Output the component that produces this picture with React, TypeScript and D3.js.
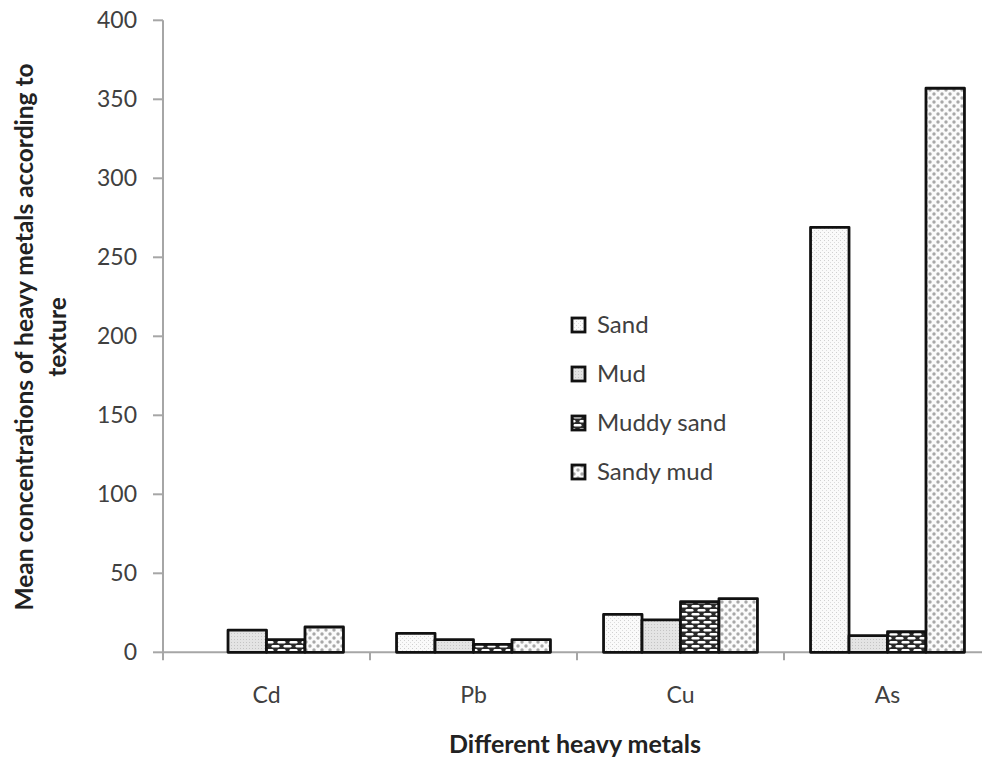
import * as React from "react";
import * as d3 from "d3";

const metals = ["Cd", "Pb", "Cu", "As"];
const textures = ["Sand", "Mud", "Muddy sand", "Sandy mud"];
// values per texture, in metal order
const sand = [0, 12, 24, 269];
const mud = [14, 8, 20.5, 10.5];
const muddySand = [8, 5, 32, 13];
const sandyMud = [16, 8, 34, 357];
const yTicks = [0, 50, 100, 150, 200, 250, 300, 350, 400];

const series = [sand, mud, muddySand, sandyMud];
const fills = ["url(#pSand)", "url(#pMud)", "url(#pMuddySand)", "url(#pSandyMud)"];

const width = 982;
const height = 759;
const left = 163;
const right = 991;
const top = 20.3;
const bottom = 652.3;
const font = "Lato, 'Open Sans', sans-serif";

export default function App() {
  const x = d3.scaleBand().domain(metals).range([left, right]).padding(0);
  const xInner = d3
    .scaleBand()
    .domain(textures)
    .range([0, x.bandwidth()])
    .paddingInner(0)
    .paddingOuter(0.69);
  const y = d3.scaleLinear().domain([0, 400]).range([bottom, top]);

  const axisColor = "#a6a6a6";
  const boundaries = metals.map((m) => x(m)!).concat([right]);

  return (
    <svg
      width={width}
      height={height}
      style={{ position: "absolute", left: 0, top: 0, background: "#fff" }}
    >
      <defs>
        <pattern id="pSand" patternUnits="userSpaceOnUse" width="4" height="4">
          <rect width="4" height="4" fill="#fafafa" />
          <rect x="0" y="0" width="1" height="1" fill="#d0d0d0" />
          <rect x="2" y="2" width="1" height="1" fill="#dcdcdc" />
        </pattern>
        <pattern id="pMud" patternUnits="userSpaceOnUse" width="3" height="3">
          <rect width="3" height="3" fill="#e4e4e4" />
          <rect x="0" y="0" width="1" height="1" fill="#c4c4c4" />
        </pattern>
        <pattern id="pMuddySand" patternUnits="userSpaceOnUse" width="12" height="8">
          <rect width="12" height="8" fill="#2a2a2a" />
          <rect x="1.5" y="1" width="8" height="2.6" rx="1.3" fill="#fff" />
          <rect x="-4.5" y="5" width="8" height="2.6" rx="1.3" fill="#fff" />
          <rect x="7.5" y="5" width="8" height="2.6" rx="1.3" fill="#fff" />
        </pattern>
        <pattern id="pSandyMud" patternUnits="userSpaceOnUse" width="8" height="8">
          <rect width="8" height="8" fill="#fbfbfb" />
          <circle cx="2" cy="2" r="1.7" fill="#a8a8a8" />
          <circle cx="6" cy="6" r="1.7" fill="#a8a8a8" />
        </pattern>
      </defs>

      {/* y axis */}
      <line x1={left} x2={left} y1={top} y2={bottom} stroke={axisColor} strokeWidth={2} />
      {yTicks.map((t) => (
        <g key={t}>
          <line x1={left - 10} x2={left} y1={y(t)} y2={y(t)} stroke={axisColor} strokeWidth={2} />
          <text
            x={137}
            y={y(t)}
            dy="0.35em"
            textAnchor="end"
            fontFamily={font}
            fontSize={23}
            fill="#404040"
          >
            {t}
          </text>
        </g>
      ))}

      {/* x axis */}
      <line x1={left} x2={right} y1={bottom} y2={bottom} stroke={axisColor} strokeWidth={2} />
      {boundaries.map((b, i) => (
        <line key={i} x1={b} x2={b} y1={bottom} y2={bottom + 8} stroke={axisColor} strokeWidth={2} />
      ))}
      {metals.map((m) => (
        <text
          key={m}
          x={x(m)! + x.bandwidth() / 2}
          y={703}
          textAnchor="middle"
          fontFamily={font}
          fontSize={23}
          fill="#404040"
        >
          {m}
        </text>
      ))}

      {/* bars */}
      {series.map((vals, si) =>
        metals.map((m, mi) =>
          vals[mi] > 0 ? (
            <rect
              key={`${si}-${mi}`}
              x={x(m)! + xInner(textures[si])!}
              y={y(vals[mi])}
              width={xInner.bandwidth()}
              height={y(0) - y(vals[mi])}
              fill={fills[si]}
              stroke="#111"
              strokeWidth={2.8}
              strokeLinejoin="round"
            />
          ) : null
        )
      )}

      {/* legend */}
      {textures.map((t, i) => (
        <g key={t} transform={`translate(572, ${325 + i * 49})`}>
          <rect x={0} y={-7} width={13} height={14} fill={fills[i]} stroke="#111" strokeWidth={2.8} />
          <text x={25} y={0} dy="0.35em" fontFamily={font} fontSize={24} fill="#404040">
            {t}
          </text>
        </g>
      ))}

      {/* axis titles */}
      <text
        transform={`translate(33, 337) rotate(-90)`}
        textAnchor="middle"
        fontFamily={font}
        fontWeight="bold"
        fontSize={24.5}
        fill="#222"
      >
        <tspan x={0} dy={0}>Mean concentrations of heavy metals according to</tspan>
        <tspan x={0} dy={33}>texture</tspan>
      </text>
      <text
        x={575}
        y={753}
        textAnchor="middle"
        fontFamily={font}
        fontWeight="bold"
        fontSize={25}
        fill="#222"
      >
        Different heavy metals
      </text>
    </svg>
  );
}
